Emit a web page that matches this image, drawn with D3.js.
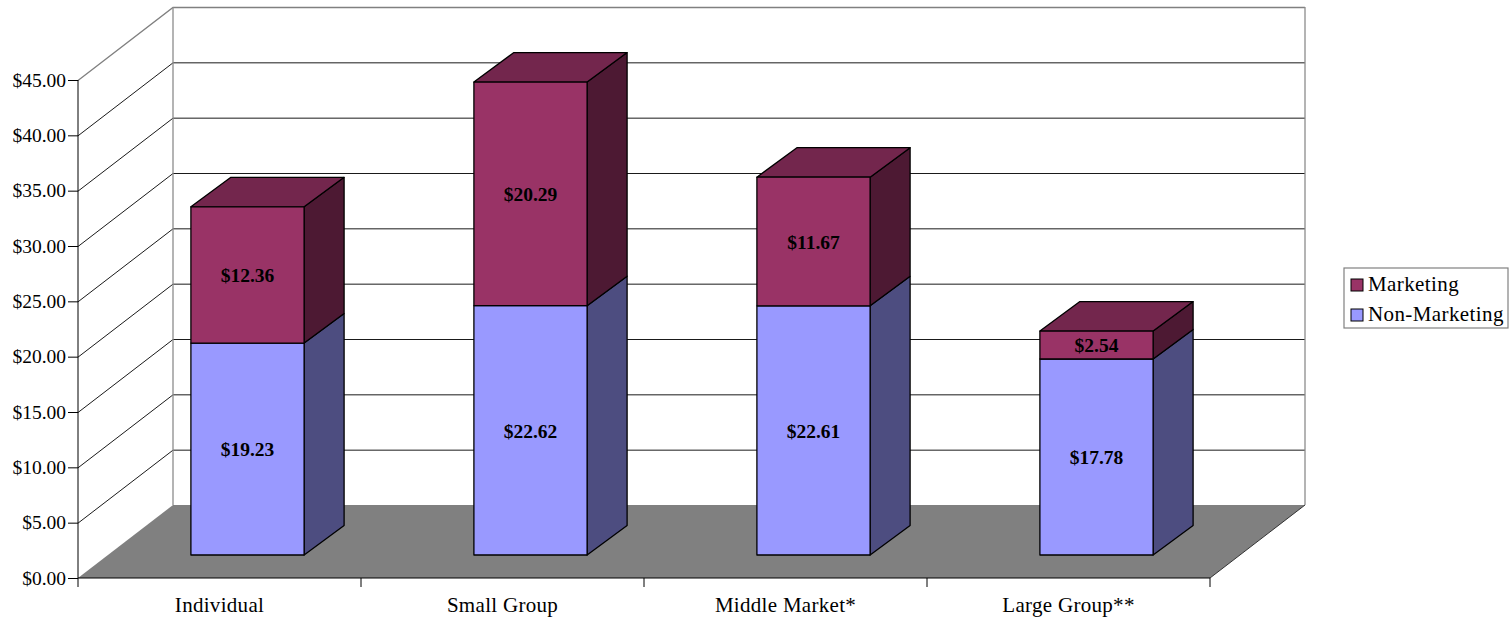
<!DOCTYPE html>
<html>
<head>
<meta charset="utf-8">
<script src="https://cdn.jsdelivr.net/npm/d3@7"></script>
<style>
    body { margin: 0; background: #fff; }
    svg { display: block; }
    text { font-family: "Liberation Serif", serif; fill: #000; }
</style>
</head>
<body>
<div id="chart"></div>
<script>
var categories = ['Individual', 'Small Group', 'Middle Market*', 'Large Group**'];
var nonMarketing = [19.23, 22.62, 22.61, 17.78];
var marketing = [12.36, 20.29, 11.67, 2.54];
var yTicks = [0, 5, 10, 15, 20, 25, 30, 35, 40, 45];

var width = 1511, height = 618;
var left = 78, right = 1210, bottom = 578, top45 = 80;
// depth of the floor and of the boxes, in pixels
var wallDx = 95, wallDy = 73;
var barInsetX = 28, barBase = 555;
var barDx = 40, barDy = 29.5;

var xScale = d3.scaleBand().domain(categories).range([left, right]).paddingInner(0.6).paddingOuter(0.3);
var labelScale = d3.scaleBand().domain(categories).range([left, right]);
var yScale = d3.scaleLinear().domain([0, 45]).range([bottom, top45]);
// the boxes stand further back, so their scale is a little shorter
var barScale = d3.scaleLinear().domain([0, 45]).range([barBase, barBase - 496]);

var svg = d3.select('#chart').append('svg').attr('width', width).attr('height', height);

// walls and gridlines
var grid = svg.append('g').attr('fill', 'none');
grid.selectAll('polyline')
    .data(yTicks.slice(1))
    .enter().append('polyline')
    .attr('points', function (d) {
        var y = yScale(d) + 0.5;
        return [[left, y], [left + wallDx, y - wallDy], [right + wallDx, y - wallDy]].join(' ');
    })
    .attr('stroke', function (d) { return d === 45 ? '#808080' : '#1a1a1a'; })
    .attr('stroke-width', function (d) { return d === 45 ? 1.3 : 1; });

svg.append('polygon')
    .attr('points', [[left, bottom], [left + wallDx, bottom - wallDy], [right + wallDx, bottom - wallDy], [right, bottom]].join(' '))
    .attr('fill', '#808080');

grid = svg.append('g').attr('stroke', '#8c8c8c').attr('stroke-width', 1.3);
[left + wallDx, right + wallDx].forEach(function (x) {
    grid.append('line')
        .attr('x1', x).attr('x2', x)
        .attr('y1', yScale(45) - wallDy).attr('y2', yScale(0) - wallDy);
});
svg.append('line')
    .attr('x1', right).attr('y1', bottom)
    .attr('x2', right + wallDx).attr('y2', bottom - wallDy)
    .attr('stroke', '#333');

// one box per stack segment
function drawBox(g, x, y0, y1, front, top, side, withTop) {
    var w = xScale.bandwidth();
    g.append('polygon')
        .attr('points', [[x + w, y0], [x + w + barDx, y0 - barDy], [x + w + barDx, y1 - barDy], [x + w, y1]].join(' '))
        .attr('fill', side);
    if (withTop) {
        g.append('polygon')
            .attr('points', [[x, y1], [x + barDx, y1 - barDy], [x + w + barDx, y1 - barDy], [x + w, y1]].join(' '))
            .attr('fill', top);
    }
    g.append('rect')
        .attr('x', x).attr('y', y1)
        .attr('width', w).attr('height', y0 - y1)
        .attr('fill', front);
}

var bars = svg.append('g').attr('stroke', '#000').attr('stroke-width', 1.3).attr('stroke-linejoin', 'round');
categories.forEach(function (c, i) {
    var x = xScale(c) + barInsetX;
    var y0 = barScale(0);
    var y1 = barScale(nonMarketing[i]);
    var y2 = barScale(nonMarketing[i] + marketing[i]);
    drawBox(bars, x, y0, y1, '#9999ff', '#7a7acc', '#4d4d80', false);
    drawBox(bars, x, y1, y2, '#993366', '#73264d', '#4d1933', true);
});

// value labels
var labels = svg.append('g')
    .attr('font-size', 19.5).attr('font-weight', 'bold').attr('text-anchor', 'middle');
categories.forEach(function (c, i) {
    var cx = xScale(c) + barInsetX + xScale.bandwidth() / 2;
    [[0, nonMarketing[i]], [nonMarketing[i], marketing[i]]].forEach(function (s) {
        labels.append('text')
            .attr('x', cx)
            .attr('y', barScale(s[0] + s[1] / 2))
            .attr('dy', '0.38em')
            .text('$' + s[1].toFixed(2));
    });
});

// axes
var yAxis = d3.axisLeft(yScale).tickValues(yTicks).tickSize(10).tickPadding(2)
    .tickFormat(function (d) { return '$' + d.toFixed(2); });
var yG = svg.append('g').attr('transform', 'translate(' + left + ',0)').call(yAxis);
yG.selectAll('text').attr('font-size', 19.5);
yG.selectAll('line,path').attr('stroke', '#000');
yG.select('.domain').attr('d', 'M0,' + yScale(45) + 'V' + yScale(0));

var xG = svg.append('g').attr('transform', 'translate(0,' + bottom + ')')
    .call(d3.axisBottom(labelScale).tickSize(0).tickPadding(19));
xG.selectAll('text').attr('font-size', 21).style('letter-spacing', '0.3px');
xG.select('.domain').attr('stroke', '#000').attr('d', 'M' + left + ',0H' + right);

var edgeScale = d3.scaleLinear().domain([0, categories.length]).range([left, right]);
svg.append('g').attr('transform', 'translate(-0.5,' + bottom + ')')
    .call(d3.axisBottom(edgeScale).tickValues(d3.range(categories.length + 1)).tickSize(9).tickFormat(''))
    .call(function (g) { g.select('.domain').remove(); })
    .selectAll('line').attr('stroke', '#000');

// legend
var legend = svg.append('g').attr('transform', 'translate(1344,268)');
legend.append('rect').attr('x', 0).attr('y', 0).attr('width', 164).attr('height', 60)
    .attr('fill', '#fff').attr('stroke', '#808080').attr('stroke-width', 1.2);
[['Marketing', '#993366'], ['Non-Marketing', '#9999ff']].forEach(function (d, i) {
    var row = legend.append('g').attr('transform', 'translate(0,' + (i * 30) + ')');
    row.append('rect').attr('x', 7).attr('y', 11).attr('width', 12).attr('height', 12)
        .attr('fill', d[1]).attr('stroke', '#000');
    row.append('text').attr('x', 24).attr('y', 23).attr('font-size', 21).style('letter-spacing', '0.4px').text(d[0]);
});
</script>
</body>
</html>
